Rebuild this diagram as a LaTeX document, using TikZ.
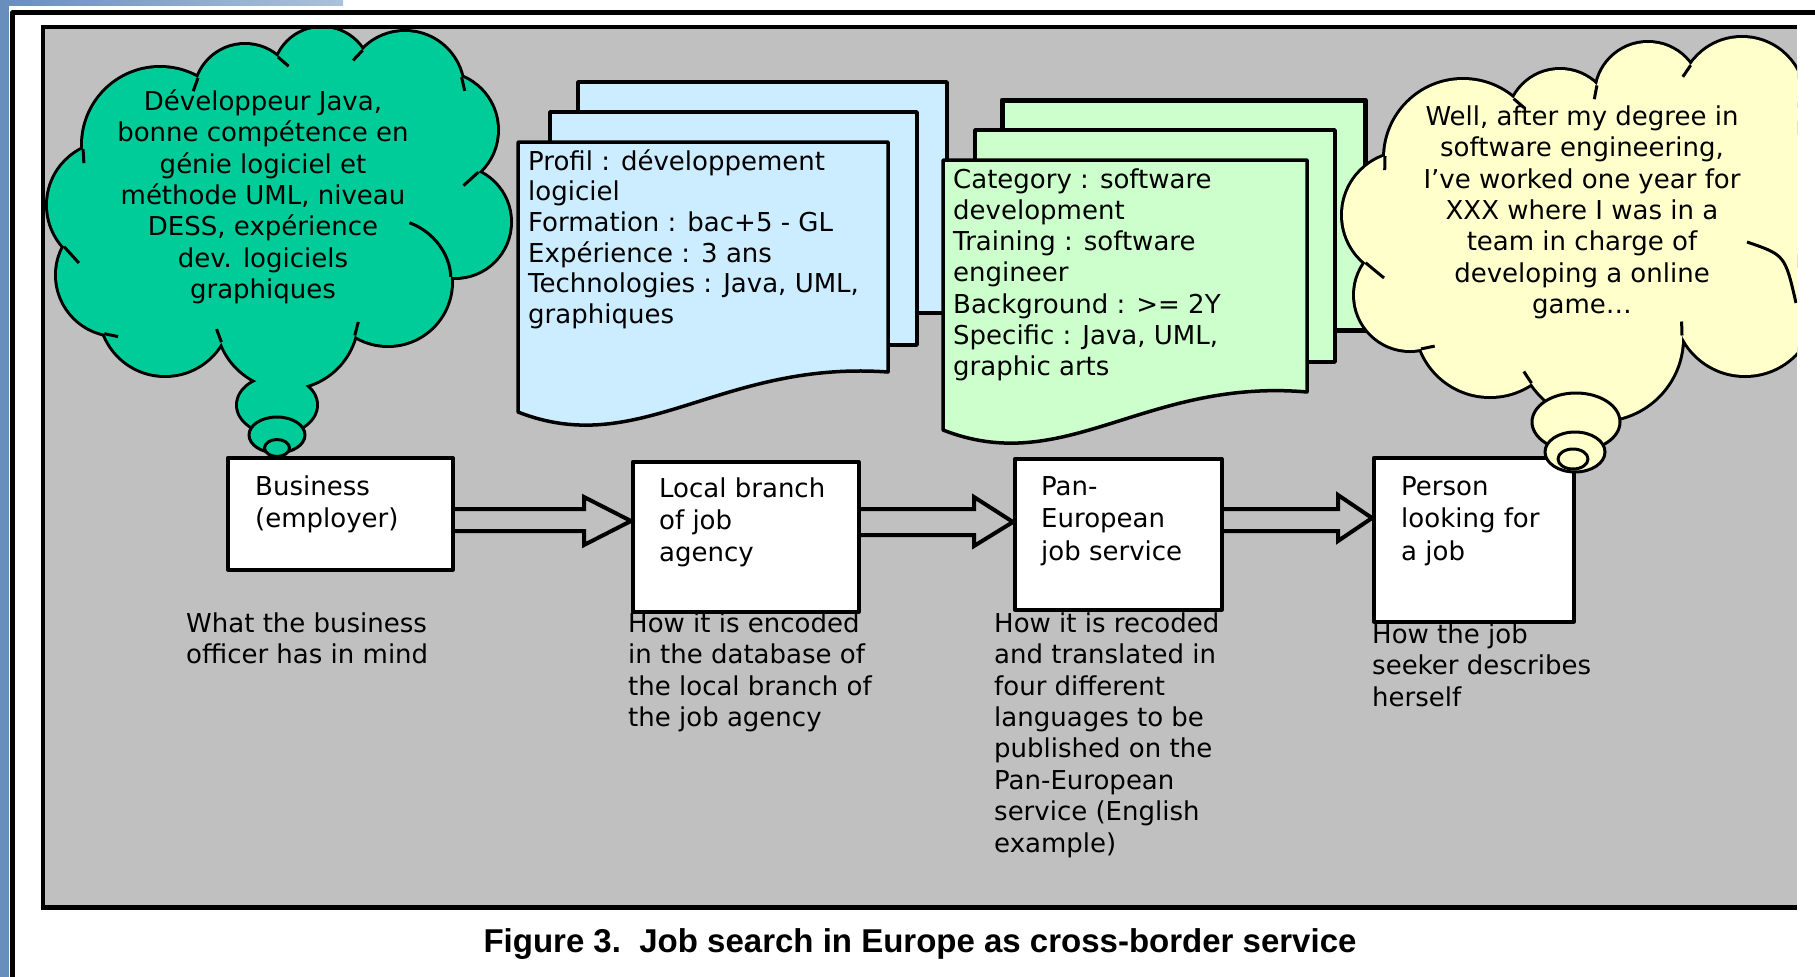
\documentclass[tikz,border=0pt]{standalone}
\usepackage{fontspec}
\setmainfont{DejaVu Sans}
\newfontfamily\capfont{Liberation Sans}
\definecolor{panelgray}{RGB}{192,192,192}
\definecolor{cloudgreen}{RGB}{0,204,153}
\definecolor{cloudyellow}{RGB}{255,255,204}
\definecolor{docblue}{RGB}{204,236,255}
\definecolor{docgreen}{RGB}{204,255,204}
\definecolor{stripblue}{RGB}{104,142,188}
\newcommand{\ts}{\rule{0pt}{24pt}}
\def\greencloud{%
 (160,145) circle[radius=77pt]
 (245,95) circle[radius=50pt]
 (322,76) circle[radius=48pt]
 (405,90) circle[radius=58pt]
 (440,130) circle[radius=57pt]
 (455,222) circle[radius=55pt]
 (388,282) circle[radius=63pt]
 (287,318) circle[radius=70pt]
 (165,310) circle[radius=65pt]
 (117,275) circle[radius=60pt]
 (110,205) circle[radius=62pt]
 (280,210) circle[x radius=170pt,y radius=120pt]
 (277,405) circle[x radius=39pt,y radius=28pt]}
\def\yellowcloud{%
 (1463,158) circle[radius=78pt]
 (1560,122) circle[radius=52pt]
 (1648,95) circle[radius=52pt]
 (1742,100) circle[radius=62pt]
 (1800,185) circle[radius=80pt]
 (1745,305) circle[radius=70pt]
 (1600,338) circle[radius=82pt]
 (1490,322) circle[radius=74pt]
 (1410,295) circle[radius=55pt]
 (1405,215) circle[radius=62pt]
 (1585,220) circle[x radius=170pt,y radius=120pt]}
\begin{document}
\begin{tikzpicture}[x=1pt,y=-1pt,line join=round,
  txt/.style={inner sep=0pt,anchor=north west,align=left,font=\fontsize{26pt}{31.4pt}\selectfont},
  ctxt/.style={inner sep=0pt,anchor=north,align=center,font=\fontsize{26pt}{31.4pt}\selectfont},
  box/.style={draw,line width=3.5pt,fill=white,anchor=north west,inner sep=0pt},
  sheet/.style={draw,line width=3.5pt},
  blockarrow/.style={draw,line width=4pt,line join=miter},
  tick/.style={line width=3pt},
  bubble/.style={draw,line width=3pt}]
\useasboundingbox (0,0) rectangle (1815,977);
\fill[white] (0,0) rectangle (1815,977);
% page decoration
\fill[stripblue] (0,0) rectangle (9,977);
\shade[left color=stripblue,right color=stripblue!55!white] (0,0) rectangle (343,5);
\draw[line width=4.5pt] (12.5,977) -- (12.5,12.5) -- (1815,12.5);
% panel
\fill[panelgray] (43,27) rectangle (1797,907);
% blue documents
\path[sheet,fill=docblue] (578,82) rectangle (947,313);
\path[sheet,fill=docblue] (550,112) rectangle (917,345);
\path[sheet,fill=docblue] (518,142) -- (888,142) -- (888,372) .. controls (720,360) and (640,460) .. (518,412) -- cycle;
% green documents
\path[sheet,line width=5pt,fill=docgreen] (1002,100) rectangle (1365,330);
\path[sheet,fill=docgreen] (975,130) rectangle (1335,362);
\path[sheet,fill=docgreen] (943,160) -- (1307,160) -- (1307,392) .. controls (1145,378) and (1065,478) .. (943,430) -- cycle;
% clouds
\begin{scope}
\clip (45,29) rectangle (1797,905);
\draw[line width=6pt] \greencloud;
\fill[cloudgreen] \greencloud;
\draw[line width=6pt] \yellowcloud;
\fill[cloudyellow] \yellowcloud;
% inner strokes of the green cloud
\draw[tick] (198,78) -- (193.2,91.2);
\draw[tick] (278,57) -- (288.6,66.2);
\draw[tick] (362.6,50.3) -- (353,60.5);
\draw[tick] (461.6,77.2) -- (464.7,90.9);
\draw[tick] (478.3,172.2) -- (463.5,185.6);
\draw[tick] (409.5,222.8) .. controls (433.7,231.6) and (450.1,254.3) .. (450.8,276.9);
\draw[tick] (354.8,335.5) -- (358.3,321.9);
\draw[tick] (221.4,342.2) -- (216.6,329.1);
\draw[tick] (104.4,333.7) -- (118.1,336.6);
\draw[tick] (64.1,246.7) -- (78.9,263);
\draw[tick] (83.1,149.2) -- (83.9,163.2);
% inner strokes of the yellow cloud
\draw[tick] (1385,156.2) -- (1384.7,170.2);
\draw[tick] (1365.5,262.7) -- (1384,278);
\draw[tick] (1421,348.9) -- (1434.7,346.1);
\draw[tick] (1531.5,383.2) -- (1523.8,371.5);
\draw[tick] (1682,335.5) -- (1681.6,321.5);
\draw[tick] (1513.6,98.7) -- (1524.2,107.8);
\draw[tick] (1596.9,85.4) -- (1594.3,99.2);
\draw[tick] (1690.7,65.2) -- (1682.8,76.8);
\draw[tick] (1747,242) .. controls (1785,255) .. (1796,303);
\end{scope}
% panel border
\draw[line width=4pt] (43,27) -- (1797,27);
\draw[line width=4pt] (43,25) -- (43,909);
\draw[line width=5pt] (41,907) -- (1797,907);
% boxes
\node[box,minimum width=225pt,minimum height=112pt] (biz) at (226,456) {};
\node[box,minimum width=226pt,minimum height=150pt] (local) at (631,460) {};
\node[box,minimum width=207pt,minimum height=151pt] (pan) at (1013,457) {};
\node[box,minimum width=200pt,minimum height=164pt] (person) at (1372,456) {};
% block arrows
\draw[blockarrow] (biz.east |- 0,509) -- (584,509) -- (584,497) -- (local.west |- 0,521) -- (584,545) -- (584,531) -- (biz.east |- 0,531);
\draw[blockarrow] (local.east |- 0,509) -- (974,509) -- (974,497) -- (pan.west |- 0,522) -- (974,546) -- (974,535) -- (local.east |- 0,535);
\draw[blockarrow] (pan.east |- 0,509) -- (1338,509) -- (1338,495) -- (person.west |- 0,518) -- (1338,541) -- (1338,531) -- (pan.east |- 0,531);
% thought bubbles
\path[bubble,fill=cloudgreen] (277,435) circle[x radius=28pt,y radius=18pt];
\path[bubble,fill=cloudgreen] (277,448) circle[x radius=12.5pt,y radius=8.5pt];
\path[bubble,fill=cloudyellow] (1576,422) circle[x radius=44pt,y radius=29pt];
\path[bubble,fill=cloudyellow] (1575,452) circle[x radius=30pt,y radius=20pt];
\path[bubble,fill=cloudyellow] (1573,459) circle[x radius=15pt,y radius=10pt];
% texts
\node[ctxt] (gtext) at (263,86) {\ts Développeur Java,\\bonne compétence en\\génie logiciel et\\méthode UML, niveau\\DESS, expérience\\dev. logiciels\\graphiques};
\node[ctxt] (ytext) at (1582,101) {\ts Well, after my degree in\\software engineering,\\I’ve worked one year for\\XXX where I was in a\\team in charge of\\developing a online\\game…};
\node[txt,font=\fontsize{26pt}{30.6pt}\selectfont] (btext) at (528,146) {\ts Profil : développement\\logiciel\\Formation : bac+5 - GL\\Expérience : 3 ans\\Technologies : Java, UML,\\graphiques};
\node[txt,font=\fontsize{26pt}{31.2pt}\selectfont] (gdtext) at (953,164) {\ts Category : software\\development\\Training : software\\engineer\\Background : >= 2Y\\Specific : Java, UML,\\graphic arts};
\node[txt,font=\fontsize{26pt}{32pt}\selectfont] (biztext) at (255,471) {\ts Business\\(employer)};
\node[txt,font=\fontsize{26pt}{32pt}\selectfont] (localtext) at (659,473) {\ts Local branch\\of job\\agency};
\node[txt,font=\fontsize{26pt}{32.5pt}\selectfont] (pantext) at (1041,471) {\ts Pan-\\European\\job service};
\node[txt,font=\fontsize{26pt}{32.5pt}\selectfont] (persontext) at (1401,471) {\ts Person\\looking for\\a job};
\node[txt] (c1) at (186,608) {\ts What the business\\officer has in mind};
\node[txt] (c2) at (628,608) {\ts How it is encoded\\in the database of\\the local branch of\\the job agency};
\node[txt] (c3) at (994,608) {\ts How it is recoded\\and translated in\\four different\\languages to be\\published on the\\Pan-European\\service (English\\example)};
\node[txt] (c4) at (1372,619) {\ts How the job\\seeker describes\\herself};
\node[inner sep=0pt,anchor=base,font=\capfont\bfseries\fontsize{33pt}{40pt}\selectfont] (caption) at (920,952) {Figure 3.\ \ Job search in Europe as cross-border service};
\end{tikzpicture}
\end{document}
